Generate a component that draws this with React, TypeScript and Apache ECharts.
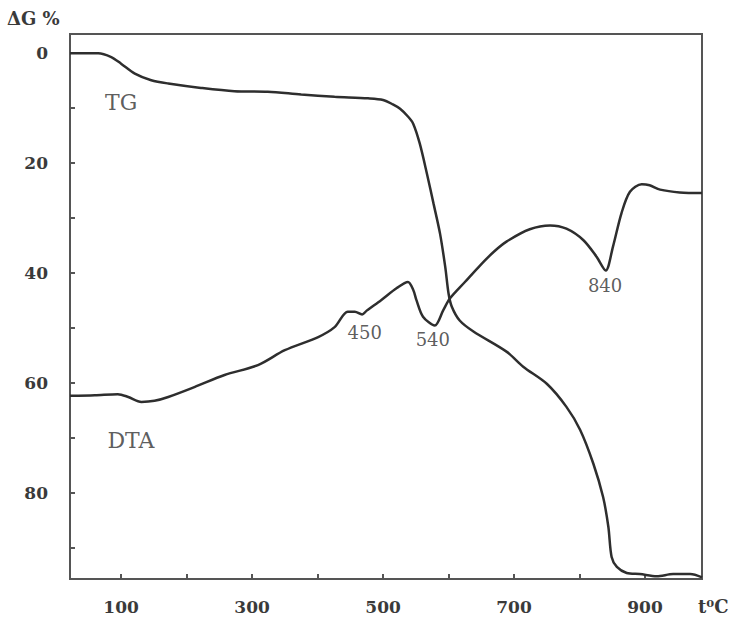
import React, { useEffect, useRef } from "react";
import * as echarts from "echarts";

// Temperature (°C) and mass change ΔG (%)
const tgTemp = [22, 65, 85, 100, 121, 146, 172, 222, 273, 324, 375, 426, 477, 500, 515, 526, 538, 546, 556, 567, 577, 587, 595, 600, 605, 617, 638, 689, 714, 750, 780, 801, 821, 836, 844, 849, 857, 872, 892, 918, 943, 969, 987];
const tgValue = [0, 0, 0.7, 1.9, 3.7, 4.9, 5.5, 6.3, 6.9, 7.0, 7.5, 7.9, 8.2, 8.5, 9.3, 10.1, 11.5, 12.8, 16.4, 21.9, 27.3, 32.8, 38.9, 43.7, 46.1, 48.6, 50.6, 54.3, 57.0, 60.1, 64.3, 68.5, 74.6, 80.7, 86.1, 91.6, 93.4, 94.5, 94.7, 95.1, 94.7, 94.7, 95.3];

const dtaTemp = [22, 60, 95, 111, 131, 151, 172, 212, 258, 309, 350, 401, 426, 446, 457, 468, 475, 497, 521, 538, 546, 551, 561, 579, 592, 602, 625, 648, 670, 689, 724, 755, 780, 806, 826, 840, 851, 864, 877, 895, 907, 923, 953, 987];
const dtaValue = [62.3, 62.2, 62.0, 62.5, 63.4, 63.2, 62.5, 60.7, 58.5, 56.7, 54.0, 51.6, 49.8, 47.0, 47.0, 47.5, 46.8, 44.9, 42.7, 41.6, 43.0, 44.9, 47.9, 49.5, 46.7, 44.6, 41.6, 38.6, 36.0, 34.2, 32.0, 31.3, 31.9, 34.0, 37.0, 39.5, 35.2, 29.1, 25.2, 23.8, 24.0, 24.8, 25.3, 25.4];

const xTicks = [100, 200, 300, 400, 500, 600, 700, 800, 900];
const xTickLabels = [100, 300, 500, 700, 900];
const yTicks = [0, 10, 20, 30, 40, 50, 60, 70, 80, 90];
const yTickLabels = [0, 20, 40, 60, 80];

const annotationText = ["TG", "DTA", "450", "540", "840"];
const annotationTemp = [100, 115, 472, 576, 839];
const annotationValue = [8.9, 70.4, 50.7, 52.1, 42.2];
const annotationSize = [22, 22, 18, 18, 18];

const INK = "#2e2e2e";
const FONT = "'DejaVu Serif', 'Liberation Serif', serif";

export default function App() {
  const ref = useRef<HTMLDivElement>(null);
  useEffect(() => {
    if (!ref.current) return;
    const chart = echarts.init(ref.current, undefined, { renderer: "svg" });
    const pair = (xs: number[], ys: number[]) => xs.map((x, i) => [x, ys[i]]);
    chart.setOption({
      animation: false,
      backgroundColor: "#ffffff",
      grid: {
        left: 70,
        top: 34,
        right: 30,
        bottom: 40,
        show: true,
        borderColor: "#555",
        borderWidth: 2,
        backgroundColor: "transparent",
      },
      xAxis: {
        type: "value",
        min: 22,
        max: 987,
        axisLine: { show: false, onZero: false },
        splitLine: { show: false },
        axisTick: {
          show: true,
          inside: true,
          length: 5,
          customValues: xTicks,
          lineStyle: { color: "#555", width: 2 },
        },
        axisLabel: {
          customValues: xTickLabels,
          margin: 19,
          fontFamily: FONT,
          fontSize: 17,
          color: "#3a3a3a",
          fontWeight: "bold",
        },
      },
      yAxis: {
        type: "value",
        inverse: true,
        min: -3.5,
        max: 95.6,
        axisLine: { show: false, onZero: false },
        splitLine: { show: false },
        axisTick: {
          show: true,
          inside: true,
          length: 5,
          customValues: yTicks,
          lineStyle: { color: "#555", width: 2 },
        },
        axisLabel: {
          customValues: yTickLabels,
          margin: 22,
          fontFamily: FONT,
          fontSize: 17,
          color: "#3a3a3a",
          fontWeight: "bold",
        },
      },
      series: [
        {
          name: "TG",
          type: "line",
          data: pair(tgTemp, tgValue),
          smooth: 0.3,
          showSymbol: false,
          lineStyle: { color: INK, width: 2.5 },
        },
        {
          name: "DTA",
          type: "line",
          data: pair(dtaTemp, dtaValue),
          smooth: 0.3,
          showSymbol: false,
          lineStyle: { color: INK, width: 2.5 },
        },
        {
          name: "labels",
          type: "scatter",
          symbolSize: 0,
          data: annotationText.map((t, i) => ({
            name: t,
            value: [annotationTemp[i], annotationValue[i]],
            label: { fontSize: annotationSize[i] },
          })),
          label: {
            show: true,
            position: "inside",
            formatter: (p: any) => p.name,
            fontFamily: FONT,
            fontSize: 18,
            color: "#333",
          },
        },
      ],
      graphic: [
        {
          type: "text",
          left: 7,
          top: 9,
          style: { text: "ΔG %", fontFamily: FONT, fontSize: 18, fontWeight: "bold", fill: "#3a3a3a" },
        },
        {
          type: "text",
          left: 698,
          top: 597,
          style: { text: "t⁰C", fontFamily: FONT, fontSize: 18, fontWeight: "bold", fill: "#3a3a3a" },
        },
      ],
    });
    return () => chart.dispose();
  }, []);
  return (
    <div
      ref={ref}
      style={{ position: "fixed", left: 0, top: 0, width: 732, height: 619 }}
    />
  );
}
